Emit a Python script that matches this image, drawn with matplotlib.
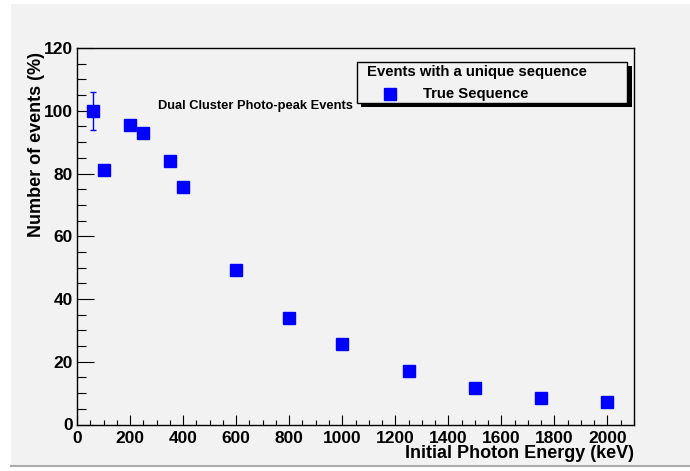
import matplotlib
matplotlib.use('Agg')
import matplotlib.pyplot as plt
from matplotlib.patches import Rectangle
from matplotlib.lines import Line2D
from matplotlib.ticker import MultipleLocator

# Dual-cluster photo-peak events with the true interaction sequence
energies = [60, 100, 200, 250, 350, 400, 600, 800, 1000, 1250, 1500, 1750, 2000]
percent = [100, 81, 95.5, 93, 84, 75.8, 49.3, 34, 25.7, 17, 11.6, 8.5, 7.2]
errors = [6, 0, 0, 0, 0, 0, 0, 0, 0, 0, 0, 0, 0]

legend_title = "Events with a unique sequence"
series_label = "True Sequence"
note = "Dual Cluster Photo-peak Events"

W, H = 690, 471
bg = '#f2f2f2'
plt.rcParams['font.family'] = ['Liberation Sans', 'DejaVu Sans']
plt.rcParams['font.weight'] = 'bold'

fig = plt.figure(figsize=(W / 100, H / 100), dpi=100, facecolor='white')

def px(x0, y0, x1, y1):
    # pixel box (top-left origin) -> figure fraction rect
    return (x0 / W, 1 - y1 / H, (x1 - x0) / W, (y1 - y0) / H)

# canvas panel
cv = px(11, 4, W, 465)
fig.patches.append(Rectangle(cv[:2], *cv[2:], transform=fig.transFigure,
                             facecolor=bg, edgecolor='none', zorder=-10))
fig.lines.append(Line2D([11 / W, 1], [1 - 466 / H] * 2, transform=fig.transFigure,
                        color='#aaaaaa', lw=1.5, zorder=-9))

ax = fig.add_axes(px(77, 48, 634, 424.5))
ax.set_facecolor(bg)

# only the first point carries an error bar
ax.errorbar(energies[:1], percent[:1], yerr=errors[:1], fmt='none',
            ecolor='blue', elinewidth=1, capsize=2.5, capthick=1, zorder=3)
ax.plot(energies, percent, 's', color='blue', ms=8.5, mec='blue', zorder=4)

ax.set_xlim(0, 2100)
ax.set_ylim(0, 120)
ax.xaxis.set_major_locator(MultipleLocator(200))
ax.xaxis.set_minor_locator(MultipleLocator(50))
ax.yaxis.set_major_locator(MultipleLocator(20))
ax.yaxis.set_minor_locator(MultipleLocator(5))

ax.tick_params(axis='both', which='both', direction='in', top=False, right=False,
               width=0.8, labelsize=12.5)
ax.tick_params(axis='y', which='major', length=12.5, pad=3)
ax.tick_params(axis='y', which='minor', length=6.2)
ax.tick_params(axis='x', which='major', length=7.2, pad=4.5)
ax.tick_params(axis='x', which='minor', length=3.6)
for lab in ax.get_xticklabels() + ax.get_yticklabels():
    lab.set_fontweight('bold')
for s in ax.spines.values():
    s.set_linewidth(1.0)

fig.text(634 / W, 1 - 454 / H, "Initial Photon Energy (keV)", ha='right',
         va='center', fontsize=13, fontweight='bold')
fig.text(37 / W, 1 - 52 / H, "Number of events (%)", rotation=90, ha='center',
         va='top', fontsize=13, fontweight='bold')

fig.text(158 / W, 1 - 106 / H, note, ha='left', va='center', fontsize=9.3,
         fontweight='bold')

# legend box with drop shadow
lx0, ly0, lx1, ly1 = 357, 62, 627, 103
sh = px(lx0 + 4, ly0 + 4, lx1 + 5, ly1 + 4)
fig.patches.append(Rectangle(sh[:2], *sh[2:], transform=fig.transFigure,
                             facecolor='black', edgecolor='none', zorder=5))
bx = px(lx0, ly0, lx1, ly1)
fig.patches.append(Rectangle(bx[:2], *bx[2:], transform=fig.transFigure,
                             facecolor=bg, edgecolor='black', lw=1, zorder=6))
fig.text(367 / W, 1 - 72 / H, legend_title, ha='left', va='center',
         fontsize=10.7, fontweight='bold', zorder=7)
fig.lines.append(Line2D([390 / W], [1 - 94 / H], transform=fig.transFigure,
                        marker='s', color='blue', ms=8.5, ls='none', zorder=7))
fig.text(423 / W, 1 - 94 / H, series_label, ha='left', va='center',
         fontsize=10.7, fontweight='bold', zorder=7)

fig.savefig('out.png', dpi=100, facecolor='white')
